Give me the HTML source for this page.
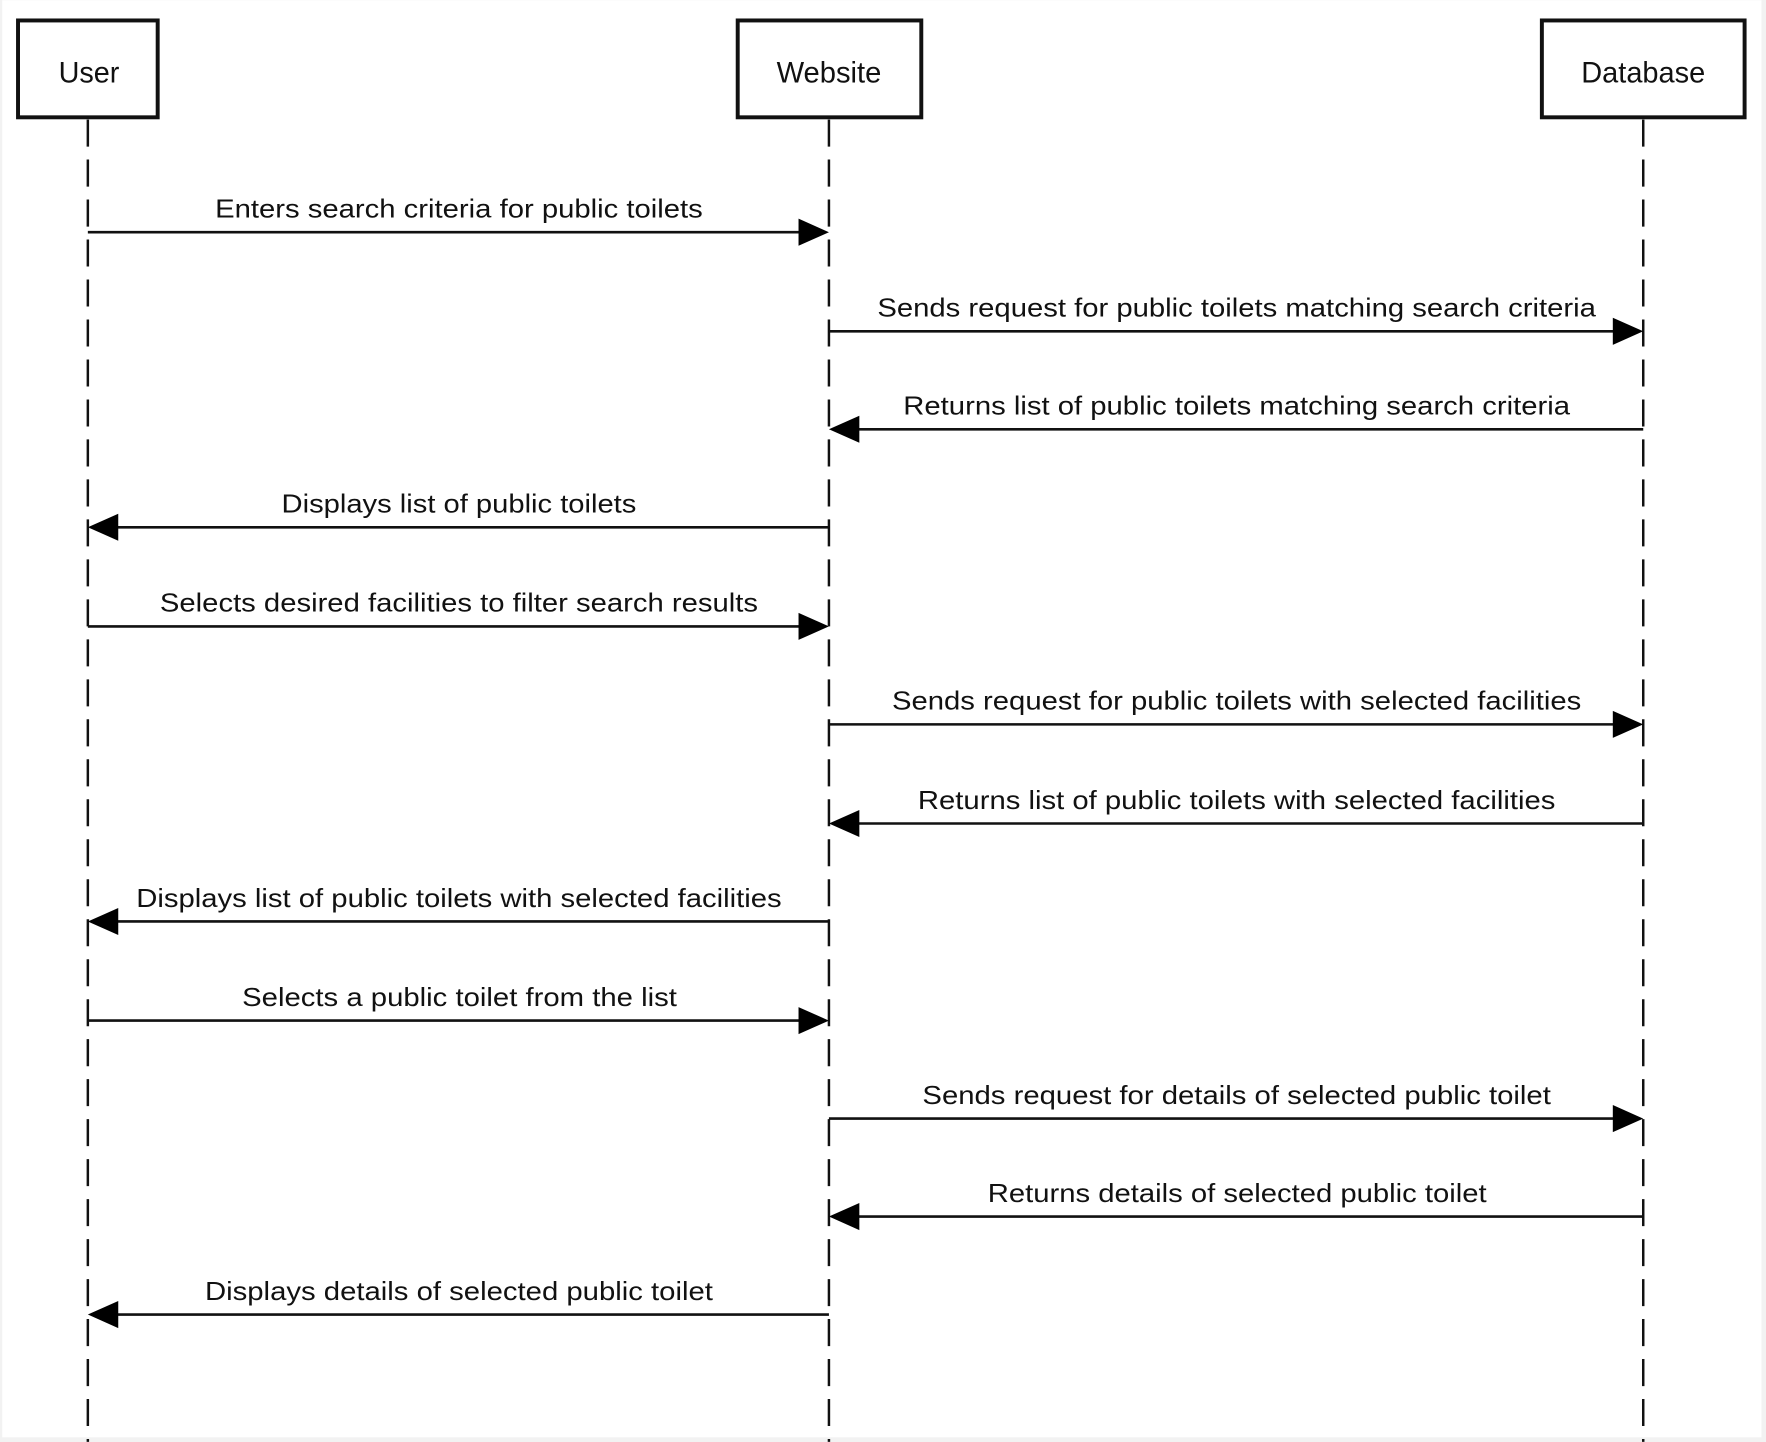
<!DOCTYPE html>
<html><head><meta charset="utf-8"><style>
html,body{margin:0;padding:0;background:#f2f2f2;}
svg{display:block;}
text{font-family:"Liberation Sans",Arial,sans-serif;font-size:23px;fill:#111;}
</style></head><body>
<svg width="1766" height="1442" viewBox="0 0 1568 1280" xmlns="http://www.w3.org/2000/svg">
<rect x="2" y="0" width="1562" height="1276" fill="#fff"/>
<g fill="none" stroke="#111" stroke-width="3.5">
<rect x="16" y="18" width="124" height="86"/>
<rect x="655" y="18" width="163" height="86"/>
<rect x="1369" y="18" width="180" height="86"/>
</g>
<g stroke="#111" stroke-width="2.2" stroke-dasharray="24,11.5">
<line x1="78" y1="106" x2="78" y2="1280"/>
<line x1="736" y1="106" x2="736" y2="1280"/>
<line x1="1459" y1="106" x2="1459" y2="1280"/>
</g>
<g text-anchor="middle">
<text x="79" y="73" style="font-size:26px" textLength="54" lengthAdjust="spacingAndGlyphs">User</text>
<text x="736" y="73" style="font-size:26px" textLength="93" lengthAdjust="spacingAndGlyphs">Website</text>
<text x="1459" y="73" style="font-size:26px" textLength="110" lengthAdjust="spacingAndGlyphs">Database</text>
</g>
<g stroke="#111" stroke-width="2.3">
<line x1="78" y1="206" x2="712" y2="206"/>
<line x1="736" y1="294" x2="1435" y2="294"/>
<line x1="760" y1="381" x2="1459" y2="381"/>
<line x1="102" y1="468" x2="736" y2="468"/>
<line x1="78" y1="556" x2="712" y2="556"/>
<line x1="736" y1="643" x2="1435" y2="643"/>
<line x1="760" y1="731" x2="1459" y2="731"/>
<line x1="102" y1="818" x2="736" y2="818"/>
<line x1="78" y1="906" x2="712" y2="906"/>
<line x1="736" y1="993" x2="1435" y2="993"/>
<line x1="760" y1="1080" x2="1459" y2="1080"/>
<line x1="102" y1="1167" x2="736" y2="1167"/>
</g>
<g fill="#000">
<polygon points="736,206 709,194 709,218"/>
<polygon points="1459,294 1432,282 1432,306"/>
<polygon points="736,381 763,369 763,393"/>
<polygon points="78,468 105,456 105,480"/>
<polygon points="736,556 709,544 709,568"/>
<polygon points="1459,643 1432,631 1432,655"/>
<polygon points="736,731 763,719 763,743"/>
<polygon points="78,818 105,806 105,830"/>
<polygon points="736,906 709,894 709,918"/>
<polygon points="1459,993 1432,981 1432,1005"/>
<polygon points="736,1080 763,1068 763,1092"/>
<polygon points="78,1167 105,1155 105,1179"/>
</g>
<g>
<text x="191" y="193" textLength="433" lengthAdjust="spacingAndGlyphs">Enters search criteria for public toilets</text>
<text x="779" y="281" textLength="638" lengthAdjust="spacingAndGlyphs">Sends request for public toilets matching search criteria</text>
<text x="802" y="368" textLength="592" lengthAdjust="spacingAndGlyphs">Returns list of public toilets matching search criteria</text>
<text x="250" y="455" textLength="315" lengthAdjust="spacingAndGlyphs">Displays list of public toilets</text>
<text x="142" y="543" textLength="531" lengthAdjust="spacingAndGlyphs">Selects desired facilities to filter search results</text>
<text x="792" y="630" textLength="612" lengthAdjust="spacingAndGlyphs">Sends request for public toilets with selected facilities</text>
<text x="815" y="718" textLength="566" lengthAdjust="spacingAndGlyphs">Returns list of public toilets with selected facilities</text>
<text x="121" y="805" textLength="573" lengthAdjust="spacingAndGlyphs">Displays list of public toilets with selected facilities</text>
<text x="215" y="893" textLength="386" lengthAdjust="spacingAndGlyphs">Selects a public toilet from the list</text>
<text x="819" y="980" textLength="558" lengthAdjust="spacingAndGlyphs">Sends request for details of selected public toilet</text>
<text x="877" y="1067" textLength="443" lengthAdjust="spacingAndGlyphs">Returns details of selected public toilet</text>
<text x="182" y="1154" textLength="451" lengthAdjust="spacingAndGlyphs">Displays details of selected public toilet</text>
</g>
</svg>
</body></html>
